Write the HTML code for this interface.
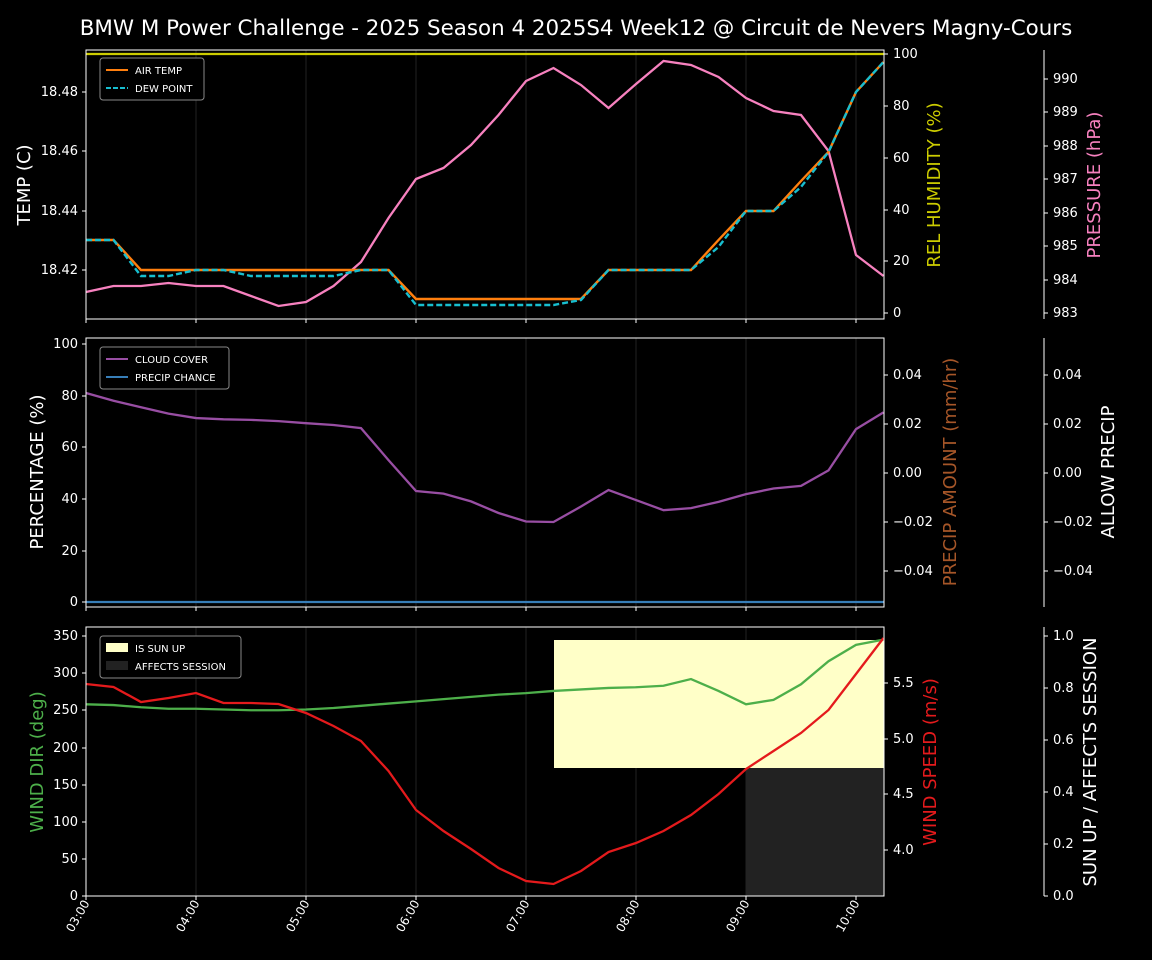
<!DOCTYPE html>
<html><head><meta charset="utf-8"><style>
html,body{margin:0;padding:0;background:#000;width:1152px;height:960px;overflow:hidden}
svg text{font-family:"DejaVu Sans","Liberation Sans",sans-serif}
</style></head><body>
<svg id="s" width="1152" height="960" xmlns="http://www.w3.org/2000/svg"></svg>
<script>
const s=document.getElementById('s');let h='';
const X=i=>86+27.5*i;
function line(ys,col,w,dash){h+=`<polyline fill="none" stroke="${col}" stroke-width="${w}" ${dash?'stroke-dasharray="6,3"':''} points="${ys.map((y,i)=>X(i)+','+y).join(' ')}"/>`;}
function txt(x,y,t,o){o=o||{};h+=`<text x="${x}" y="${y}" fill="${o.c||'#fff'}" font-size="${o.s||13}" text-anchor="${o.a||'start'}" ${o.r!=null?`transform="rotate(${o.r} ${x} ${y})"`:''}>${t}</text>`;}
h+=`<text x="576" y="35" fill="#fff" font-size="21.4" text-anchor="middle">BMW M Power Challenge - 2025 Season 4 2025S4 Week12 @ Circuit de Nevers Magny-Cours</text>`;
const panels=[[50,319],[338,607],[627,896]];
panels.forEach(([t,b])=>{
 for(let k=1;k<=7;k++){const x=86+110*k;h+=`<line x1="${x}" y1="${t}" x2="${x}" y2="${b}" stroke="#222" stroke-width="1"/>`;}
});
h+=`<rect x="554" y="640" width="330" height="128" fill="#ffffc8"/>`;
h+=`<rect x="746" y="768" width="138" height="128" fill="#222"/>`;
line(Array(30).fill(54),'#cccc00',2.2);
const pr=[292,286,286,283,286,286,296,306,302,286,262,218,179,168,145,115,81,68,85,108,84,61,65,77,98,111,115,151,255,276];
line(pr,'#f781bf',2.3);
const at=[240,240,270,270,270,270,270,270,270,270,270,270,299,299,299,299,299,299,299,270,270,270,270,240,211,211,181,152,92,62];
line(at,'#ff7f0e',2.4);
const dp=[240,240,276,276,270,270,276,276,276,276,270,270,305,305,305,305,305,305,300,270,270,270,270,247,211,211,187,152,92,62];
line(dp,'#17becf',2.4,true);
const cc=[81,78,75.5,73,71.3,70.8,70.6,70.1,69.3,68.6,67.4,55,43,42,39,34.5,31.2,31,37,43.4,39.5,35.6,36.4,38.8,41.8,44,45,51,67,73.5].map(v=>602-2.58*v);
line(cc,'#984ea3',2.3);
line(Array(30).fill(602),'#377eb8',2.3);
const wd=[258,257,254,252,252,251,250,250,251,253,256,259,262,265,268,271,273,276,278,280,281,283,292,276,258,264,285,316,338,345].map(v=>896-0.743*v);
line(wd,'#4daf4a',2.3);
const ws=[684,687,702,698,693,703,703,704,713,726,741,771,810,831,849,868,881,884,871,852,843,831,815,794,769,751,733,710,674,638];
line(ws,'#e41a1c',2.3);
panels.forEach(([t,b])=>{h+=`<rect x="86" y="${t}" width="798" height="${b-t}" fill="none" stroke="#fff" stroke-width="1" shape-rendering="crispEdges"/>`;
 h+=`<line x1="1044" y1="${t}" x2="1044" y2="${b}" stroke="#fff" shape-rendering="crispEdges"/>`;
 for(let k=0;k<=7;k++){const x=86+110*k;h+=`<line x1="${x}" y1="${b}" x2="${x}" y2="${b+4}" stroke="#fff"/>`;}});
function lt(ticks,x0,side){ticks.forEach(([y,l])=>{if(side=='l'){h+=`<line x1="${x0-4}" y1="${y}" x2="${x0}" y2="${y}" stroke="#fff"/>`;txt(x0-8,y+4,l,{a:'end'});}else{h+=`<line x1="${x0}" y1="${y}" x2="${x0+4}" y2="${y}" stroke="#fff"/>`;txt(x0+9,y+4,l);}});}
lt([[92,'18.48'],[151,'18.46'],[211,'18.44'],[270,'18.42']],86,'l');
lt([[54,'100'],[106,'80'],[158,'60'],[210,'40'],[261,'20'],[313,'0']],884,'r');
lt([[79,'990'],[112,'989'],[146,'988'],[179,'987'],[213,'986'],[246,'985'],[280,'984'],[313,'983']],1044,'r');
lt([[344,'100'],[396,'80'],[447,'60'],[499,'40'],[551,'20'],[602,'0']],86,'l');
const pp=[[375,'0.04'],[424,'0.02'],[473,'0.00'],[522,'−0.02'],[571,'−0.04']];
lt(pp,884,'r');lt(pp,1044,'r');
lt([[896,'0'],[859,'50'],[822,'100'],[785,'150'],[748,'200'],[710,'250'],[673,'300'],[636,'350']],86,'l');
lt([[850,'4.0'],[794,'4.5'],[739,'5.0'],[683,'5.5']],884,'r');
lt([[896,'0.0'],[844,'0.2'],[792,'0.4'],[740,'0.6'],[688,'0.8'],[636,'1.0']],1044,'r');
for(let k=0;k<=7;k++){const x=86+110*k+4,y=903;const l=(3+k<10?'0':'')+(3+k)+':00';txt(x,y,l,{a:'end',r:-60,s:12});}
txt(30,185,'TEMP (C)',{s:18,a:'middle',r:-90});
txt(940,185,'REL HUMIDITY (%)',{s:18,a:'middle',r:-90,c:'#cccc00'});
txt(1100,185,'PRESSURE (hPa)',{s:18,a:'middle',r:-90,c:'#f781bf'});
txt(43,472,'PERCENTAGE (%)',{s:18,a:'middle',r:-90});
txt(956,472,'PRECIP AMOUNT (mm/hr)',{s:18,a:'middle',r:-90,c:'#a65628'});
txt(1114,472,'ALLOW PRECIP',{s:18,a:'middle',r:-90});
txt(43,762,'WIND DIR (deg)',{s:18,a:'middle',r:-90,c:'#4daf4a'});
txt(936,762,'WIND SPEED (m/s)',{s:18,a:'middle',r:-90,c:'#e41a1c'});
txt(1096,762,'SUN UP / AFFECTS SESSION',{s:18,a:'middle',r:-90});
function leg(x,y,w,items){h+=`<rect x="${x}" y="${y}" width="${w}" height="${items.length*18+6}" rx="3" fill="#000" stroke="#888"/>`;
 items.forEach((it,i)=>{const yy=y+12+18*i;if(it.box)h+=`<rect x="${x+6}" y="${yy-5}" width="22" height="9" fill="${it.c}"/>`;else h+=`<line x1="${x+6}" y1="${yy}" x2="${x+28}" y2="${yy}" stroke="${it.c}" stroke-width="2" ${it.d?'stroke-dasharray="5,2"':''}/>`;txt(x+35,yy+4,it.t,{s:10});});}
leg(100,58,104,[{c:'#ff7f0e',t:'AIR TEMP'},{c:'#17becf',t:'DEW POINT',d:1}]);
leg(100,347,129,[{c:'#984ea3',t:'CLOUD COVER'},{c:'#377eb8',t:'PRECIP CHANCE'}]);
leg(100,636,141,[{c:'#ffffc8',t:'IS SUN UP',box:1},{c:'#222',t:'AFFECTS SESSION',box:1}]);
s.innerHTML=h;
</script>
</body></html>
